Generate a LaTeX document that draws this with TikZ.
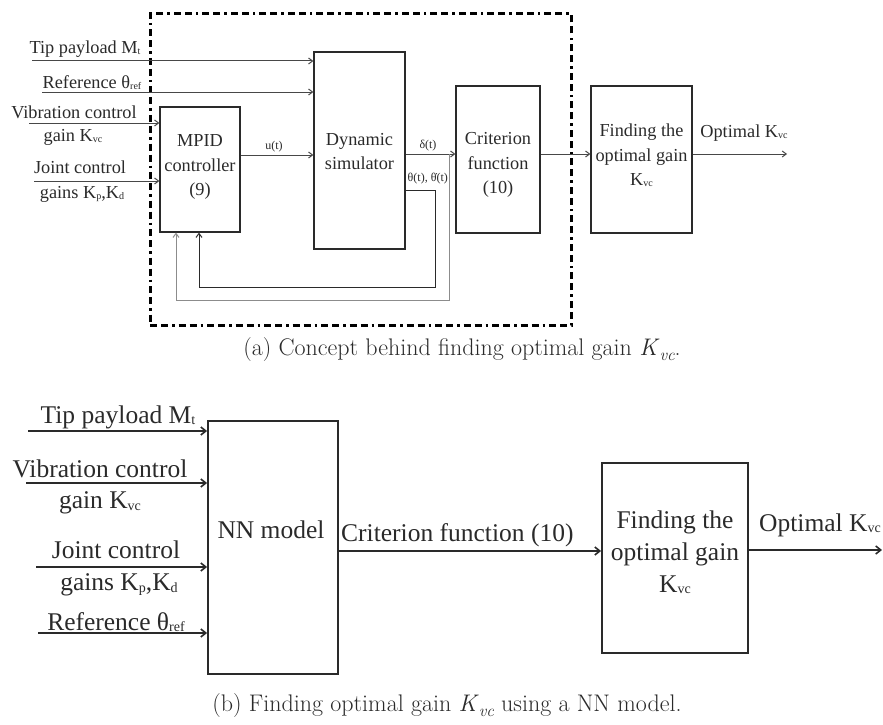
\documentclass[tikz,border=0pt]{standalone}
\usepackage{fontspec}
\usepackage{graphicx}
\newfontfamily\tms{Liberation Serif}
\usetikzlibrary{arrows.meta}
\definecolor{boxc}{HTML}{2A2A2A}
\definecolor{linec}{HTML}{474747}
\definecolor{fbc}{HTML}{8C8C8C}
\newcommand\lo[1]{\raisebox{-0.06em}{\scalebox{0.55}{#1}}}
\newcommand\mlo[1]{\raisebox{-0.18em}{\scalebox{0.7}{\itshape #1}}}
\tikzset{
  dashframe/.style={draw=black, line width=3pt, dash pattern=on 7pt off 4pt on 7pt off 4pt on 2.5pt off 4pt},
  blk/.style={draw=boxc, line width=1.3pt, inner sep=0pt},
  blkb/.style={draw=boxc, line width=1.8pt, inner sep=0pt},
  txa/.style={font=\tms\fontsize{18.3}{24.5}\selectfont, inner sep=0pt, align=center, text=boxc},
  txs/.style={font=\tms\fontsize{12}{14}\selectfont, inner sep=0pt, text=boxc},
  txb/.style={font=\tms\fontsize{25.5}{32}\selectfont, inner sep=0pt, align=center, text=boxc},
  captxt/.style={font=\fontsize{24}{28}\selectfont, inner sep=0pt, text=boxc},
  con/.style={draw=linec, line width=1pt, -{Straight Barb[length=4pt,width=6pt]}},
  fb/.style={draw=boxc, line width=1pt, -{Straight Barb[length=4pt,width=6pt]}},
  fbb/.style={draw=fbc, line width=1pt, -{Straight Barb[length=4pt,width=6pt]}},
  conb/.style={draw=boxc, line width=1.6pt, -{Straight Barb[length=5pt,width=8pt]}},
}
\begin{document}
\begin{tikzpicture}[x=1pt,y=-1pt]
\useasboundingbox (0,0) rectangle (883,725);
% ---------- part (a) ----------
\node[dashframe, minimum width=421pt, minimum height=311pt, inner sep=0pt] (frm) at (360.5,169.5) {};
\node[blk, minimum width=80pt, minimum height=125pt] (mpid) at (200,169.5) {};
\node[txa] (mpidT) at (200,167) {MPID\\controller\\(9)};
\node[blk, minimum width=91pt, minimum height=197pt] (sim) at (359.5,150.5) {};
\node[txa] (simT) at (359.5,151.5) {Dynamic\\simulator};
\node[blk, minimum width=84pt, minimum height=147pt] (crit) at (498,159.5) {};
\node[txa] (critT) at (498,165) {Criterion\\function\\(10)};
\node[blk, minimum width=101pt, minimum height=147pt] (finda) at (641.5,159.5) {};
\node[txa] (findaT) at (641.5,155.5) {Finding the\\optimal gain\\K\lo{vc}};

\node[txa] (tipL) at (85,49) {Tip payload M\lo{t}};
\node[txa] (refL) at (92,83) {Reference θ\lo{ref}};
\node[txa] (vibL) at (74,112) {Vibration control};
\node[txa] (vibL2) at (73,137) {gain K\lo{vc}};
\node[txa] (jntL) at (80,167) {Joint control};
\node[txa] (jntL2) at (82,194) {gains K\lo{p},K\lo{d}};

\coordinate (tipS) at (32,61);
\coordinate (refS) at (42,92);
\coordinate (vibS) at (29,123);
\coordinate (jntS) at (34,181);
\draw[con] (tipS) -- (tipS -| sim.west);
\draw[con] (refS) -- (refS -| sim.west);
\draw[con] (vibS) -- (vibS -| mpid.west);
\draw[con] (jntS) -- (jntS -| mpid.west);

\coordinate (uY) at (0,155);
\draw[con] (mpid.east |- uY) -- (sim.west |- uY);
\node[txs] (uL) at (274,147) {u(t)};
\coordinate (dY) at (0,154);
\draw[con] (sim.east |- dY) -- (crit.west |- dY);
\node[txs] (dL) at (428,146) {δ(t)};
\node[txs, anchor=west] (thL) at (407.5,179) {θ(t), θ^^^^0307(t)};
\draw[con] (crit.east |- dY) -- (finda.west |- dY);
\coordinate (outE) at (787,154);
\draw[con] (finda.east |- dY) -- (outE);
\node[txa] (optL) at (744,133) {Optimal K\lo{vc}};

\coordinate (f1a) at (435,190);
\coordinate (f1b) at (435,287);
\coordinate (f1c) at (199,287);
\draw[fb] (sim.east |- f1a) -- (f1a) -- (f1b) -- (f1c) -- (mpid.south -| f1c);
\coordinate (f2a) at (449,154);
\coordinate (f2b) at (449,300);
\coordinate (f2c) at (176,300);
\draw[fbb] (f2a) -- (f2b) -- (f2c) -- (mpid.south -| f2c);

\node[captxt] (capA) at (462,350) {(a) Concept behind finding optimal gain \textit{K}\mlo{vc}.};

% ---------- part (b) ----------
\node[blkb, minimum width=130pt, minimum height=253pt] (nn) at (273,547.5) {};
\node[txb] (nnT) at (271,530) {NN model};
\node[blkb, minimum width=146pt, minimum height=190pt] (findb) at (675,558) {};
\node[txb] (findbT) at (675,552) {Finding the\\optimal gain\\K\lo{vc}};

\node[txb] (tipB) at (118,417) {Tip payload M\lo{t}};
\node[txb] (vibB) at (100,469) {Vibration control};
\node[txb] (vibB2) at (100,503) {gain K\lo{vc}};
\node[txb] (jntB) at (116,550) {Joint control};
\node[txb] (jntB2) at (119,585) {gains K\lo{p},K\lo{d}};
\node[txb] (refB) at (116,622) {Reference θ\lo{ref}};

\coordinate (tipBS) at (28,431);
\coordinate (vibBS) at (26,483);
\coordinate (jntBS) at (36,567);
\coordinate (refBS) at (38,633);
\draw[conb] (tipBS) -- (tipBS -| nn.west);
\draw[conb] (vibBS) -- (vibBS -| nn.west);
\draw[conb] (jntBS) -- (jntBS -| nn.west);
\draw[conb] (refBS) -- (refBS -| nn.west);

\coordinate (cY) at (0,551);
\draw[conb] (nn.east |- cY) -- (findb.west |- cY);
\node[txb, anchor=west] (critB) at (341,535) {Criterion function (10)};
\coordinate (outB) at (882,550);
\draw[conb] (findb.east |- outB) -- (outB);
\node[txb] (optB) at (820,525) {Optimal K\lo{vc}};

\node[captxt] (capB) at (447,706) {(b) Finding optimal gain \textit{K}\mlo{vc} using a NN model.};
\end{tikzpicture}
\end{document}
